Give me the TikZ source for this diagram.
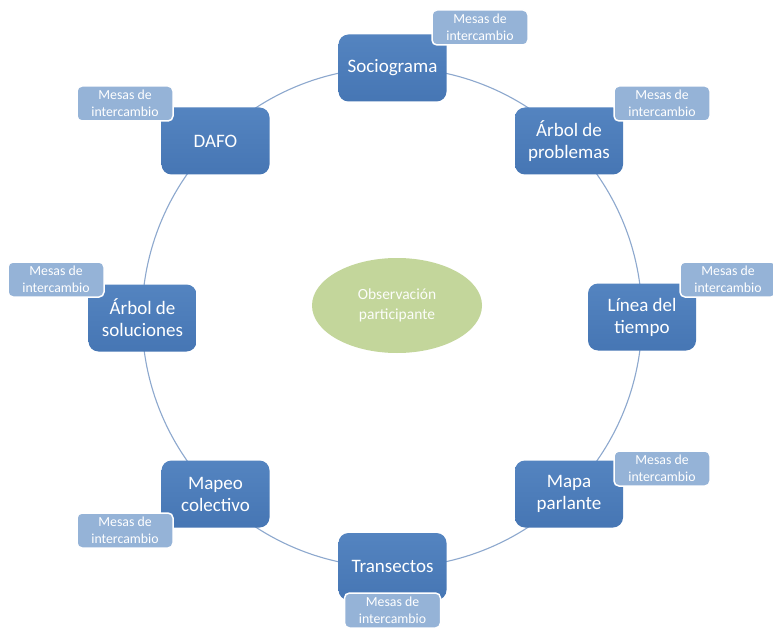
\documentclass[tikz,border=0pt]{standalone}
\usepackage{fontspec}
\setmainfont{Carlito}
\usetikzlibrary{shapes.geometric}
\definecolor{boxtop}{HTML}{5484C0}
\definecolor{boxbot}{HTML}{4676B4}
\definecolor{subblue}{HTML}{95B3D7}
\definecolor{ringcol}{HTML}{8DA8CE}
\definecolor{ovalgreen}{HTML}{C3D69B}
\begin{document}
\begin{tikzpicture}[x=1pt,y=-1pt,
  mainbox/.style={rectangle, rounded corners=10pt, minimum width=108pt, minimum height=67pt,
    top color=boxtop, bottom color=boxbot, draw=none, text=white,
    font=\fontsize{19}{22}\selectfont, align=center, inner sep=2pt},
  subbox/.style={rectangle, rounded corners=5pt, minimum width=96pt, minimum height=35pt,
    fill=subblue, draw=white, line width=1.5pt, text=white,
    font=\fontsize{13.8}{16.5}\selectfont, align=center, inner sep=1pt},
  centeroval/.style={ellipse, minimum width=170pt, minimum height=95pt, fill=ovalgreen,
    draw=none, text=white!95!ovalgreen, font=\fontsize{15.5}{19.5}\selectfont, align=center, inner sep=0pt},
  ring/.style={draw=ringcol, line width=1.1pt}]
\useasboundingbox (0,0) rectangle (773,628);
\fill[white] (0,0) rectangle (773,628);
\coordinate (ctr) at (392,317.5);
\draw[ring] (ctr) circle [radius=250];
\node[centeroval] (obs) at (397,305.5) {Observación\\participante};
% main nodes
\node[mainbox] (soc) at (392.5,68) {Sociograma};
\node[mainbox] (arp) at (569,141) {Árbol de\\problemas};
\node[mainbox] (lin) at (642,317) {Línea del\\tiempo};
\node[mainbox] (map) at (569,494) {Mapa\\parlante};
\node[mainbox] (tra) at (392.5,566.5) {Transectos};
\node[mainbox] (mco) at (215.5,494) {Mapeo\\colectivo};
\node[mainbox] (ars) at (142.5,318) {Árbol de\\soluciones};
\node[mainbox] (daf) at (215.5,141) {DAFO};
% sub nodes
\node[subbox] (msoc) at (480,27.5) {Mesas de\\intercambio};
\node[subbox] (marp) at (662,103.5) {Mesas de\\intercambio};
\node[subbox] (mlin) at (728,279.5) {Mesas de\\intercambio};
\node[subbox] (mmap) at (662,468.5) {Mesas de\\intercambio};
\node[subbox] (mtra) at (392.5,610.5) {Mesas de\\intercambio};
\node[subbox] (mmco) at (125,530.5) {Mesas de\\intercambio};
\node[subbox] (mars) at (56,279.5) {Mesas de\\intercambio};
\node[subbox] (mdaf) at (125,103.5) {Mesas de\\intercambio};
\end{tikzpicture}
\end{document}
